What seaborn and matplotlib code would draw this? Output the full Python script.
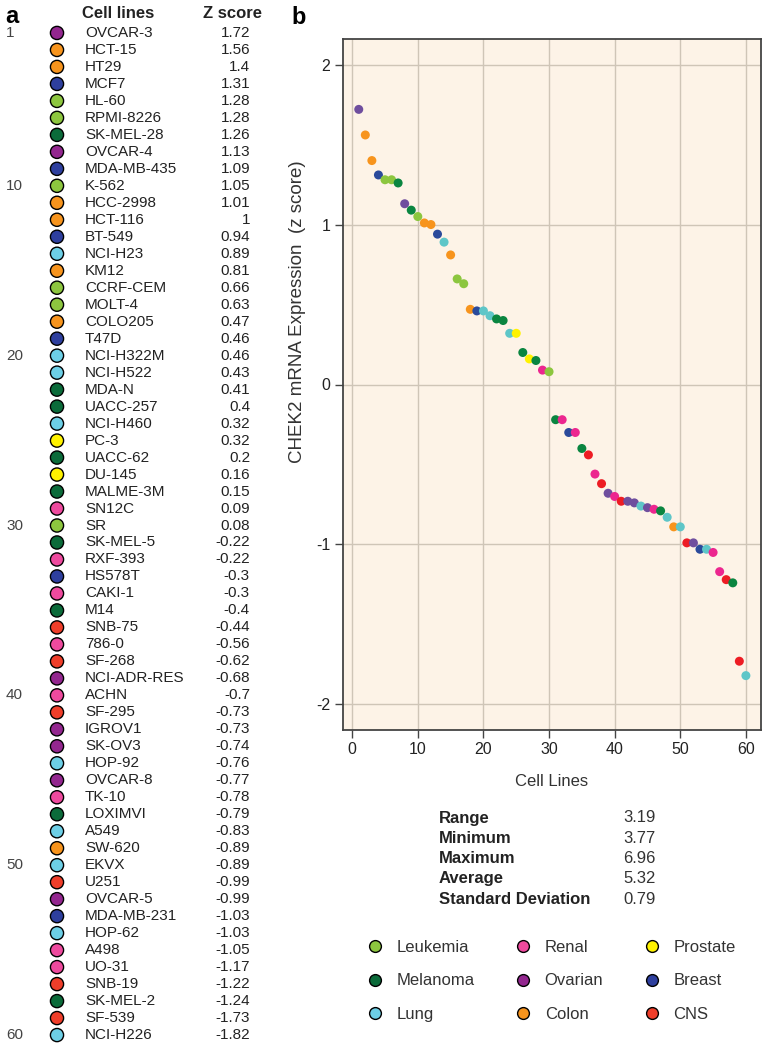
import numpy as np
import pandas as pd
import matplotlib.pyplot as plt
from matplotlib.lines import Line2D
import seaborn as sns

# -------------------------------
# Data
# -------------------------------
cell_lines = ["OVCAR-3", "HCT-15", "HT29", "MCF7", "HL-60", "RPMI-8226", "SK-MEL-28",
              "OVCAR-4", "MDA-MB-435", "K-562", "HCC-2998", "HCT-116", "BT-549", "NCI-H23",
              "KM12", "CCRF-CEM", "MOLT-4", "COLO205", "T47D", "NCI-H322M", "NCI-H522",
              "MDA-N", "UACC-257", "NCI-H460", "PC-3", "UACC-62", "DU-145", "MALME-3M",
              "SN12C", "SR", "SK-MEL-5", "RXF-393", "HS578T", "CAKI-1", "M14", "SNB-75",
              "786-0", "SF-268", "NCI-ADR-RES", "ACHN", "SF-295", "IGROV1", "SK-OV3",
              "HOP-92", "OVCAR-8", "TK-10", "LOXIMVI", "A549", "SW-620", "EKVX", "U251",
              "OVCAR-5", "MDA-MB-231", "HOP-62", "A498", "UO-31", "SNB-19", "SK-MEL-2",
              "SF-539", "NCI-H226"]

z_scores = [1.72, 1.56, 1.4, 1.31, 1.28, 1.28, 1.26, 1.13, 1.09, 1.05,
            1.01, 1, 0.94, 0.89, 0.81, 0.66, 0.63, 0.47, 0.46, 0.46,
            0.43, 0.41, 0.4, 0.32, 0.32, 0.2, 0.16, 0.15, 0.09, 0.08,
            -0.22, -0.22, -0.3, -0.3, -0.4, -0.44, -0.56, -0.62, -0.68, -0.7,
            -0.73, -0.73, -0.74, -0.76, -0.77, -0.78, -0.79, -0.83, -0.89, -0.89,
            -0.99, -0.99, -1.03, -1.03, -1.05, -1.17, -1.22, -1.24, -1.73, -1.82]

cancer_types = ["Ovarian", "Colon", "Colon", "Breast", "Leukemia", "Leukemia", "Melanoma",
                "Ovarian", "Breast", "Leukemia", "Colon", "Colon", "Breast", "Lung",
                "Colon", "Leukemia", "Leukemia", "Colon", "Breast", "Lung", "Lung",
                "Melanoma", "Melanoma", "Lung", "Prostate", "Melanoma", "Prostate", "Melanoma",
                "Renal", "Leukemia", "Melanoma", "Renal", "Breast", "Renal", "Melanoma", "CNS",
                "Renal", "CNS", "Ovarian", "Renal", "CNS", "Ovarian", "Ovarian",
                "Lung", "Ovarian", "Renal", "Melanoma", "Lung", "Colon", "Lung", "CNS",
                "Ovarian", "Breast", "Lung", "Renal", "Renal", "CNS", "Melanoma",
                "CNS", "Lung"]

# the scatter panel shows MDA-MB-435 in the melanoma colour
plot_types = list(cancer_types)
plot_types[8] = "Melanoma"

stat_names = ["Range", "Minimum", "Maximum", "Average", "Standard Deviation"]
stat_values = ["3.19", "3.77", "6.96", "5.32", "0.79"]

legend_order = ["Leukemia", "Melanoma", "Lung", "Renal", "Ovarian", "Colon",
                "Prostate", "Breast", "CNS"]

table_colors = {"Leukemia": "#8DC63F", "Melanoma": "#0B6B3A", "Lung": "#6DCFE6",
                "Renal": "#EE4A9E", "Ovarian": "#93278F", "Colon": "#F7941D",
                "Prostate": "#FFF200", "Breast": "#2E3F9E", "CNS": "#EF3E2A"}
plot_colors = {"Leukemia": "#8CC63F", "Melanoma": "#0A8540", "Lung": "#5EC6C8",
               "Renal": "#EC268F", "Ovarian": "#6F4E9E", "Colon": "#F7941D",
               "Prostate": "#FFF200", "Breast": "#2B4A9B", "CNS": "#ED1C24"}

df = pd.DataFrame({"cell_line": cell_lines, "z": z_scores, "type": cancer_types,
                   "plot_type": plot_types})
df["rank"] = np.arange(1, len(df) + 1)

# -------------------------------
# Figure setup
# -------------------------------
sns.set_theme(style="white")
plt.rcParams["font.family"] = ["Liberation Sans", "DejaVu Sans"]
plt.rcParams["axes.unicode_minus"] = False
txt = "#222222"

W, H = 769, 1050
fig = plt.figure(figsize=(W / 100, H / 100), dpi=100)


def fx(px):
    return px / W


def fy(py):
    return 1 - py / H


# -------------------------------
# Panel a: table
# -------------------------------
ax_t = fig.add_axes([0, 0, 290 / W, 1])
ax_t.set_xlim(0, 290)
ax_t.set_ylim(60.88, -0.94)
ax_t.axis("off")

df["dot_x"] = 57
sns.scatterplot(data=df, x="dot_x", y="rank", hue="type", palette=table_colors,
                s=90, edgecolor="black", linewidth=1, legend=False, ax=ax_t, zorder=3)

for _, r in df.iterrows():
    ax_t.text(85, r["rank"], r["cell_line"], fontsize=11, color=txt, va="center", ha="left")
    ax_t.text(250, r["rank"], f"{r['z']:g}", fontsize=11, color=txt, va="center", ha="right")
    if r["rank"] == 1 or r["rank"] % 10 == 0:
        ax_t.text(6, r["rank"], str(r["rank"]), fontsize=11, color="#444444",
                  va="center", ha="left")

fig.text(fx(82), fy(18), "Cell lines", fontsize=12, fontweight="bold", color=txt, va="baseline")
fig.text(fx(203), fy(18), "Z score", fontsize=12, fontweight="bold", color=txt, va="baseline")
fig.text(fx(5), fy(23), "a", fontsize=17, fontweight="bold", color="black", va="baseline")

# -------------------------------
# Panel b: scatter
# -------------------------------
fig.text(fx(291), fy(24), "b", fontsize=17, fontweight="bold", color="black", va="baseline")

ax = fig.add_axes([fx(343), fy(730), (761 - 343) / W, (730 - 39) / H])
ax.set_facecolor("#FDF3E7")
ax.grid(True, color="#CFC5B7", linewidth=1)
ax.set_axisbelow(True)

sns.scatterplot(data=df, x="rank", y="z", hue="plot_type", palette=plot_colors,
                s=42, linewidth=0, legend=False, ax=ax, zorder=3)

ax.set_xlim(-1.4, 62.3)
ax.set_ylim(-2.16, 2.16)
ax.set_xticks(range(0, 61, 10))
ax.set_yticks([-2, -1, 0, 1, 2])
ax.tick_params(axis="both", direction="out", length=6, width=1, color="#444444",
               labelsize=11.5, labelcolor=txt, pad=3, bottom=True, left=True)
for sp in ax.spines.values():
    sp.set_color("#444444")
    sp.set_linewidth(1.3)
ax.set_xlabel("Cell Lines", fontsize=12, color="#333333", labelpad=12)
ax.set_ylabel("")
fig.text(fx(297), fy(312), "CHEK2 mRNA Expression  (z score)", rotation=90,
         fontsize=13.5, color="#333333", ha="center", va="center")

# -------------------------------
# Summary statistics
# -------------------------------
for i, (name, val) in enumerate(zip(stat_names, stat_values)):
    y = 818 + i * 20.3
    fig.text(fx(439), fy(y), name, fontsize=12, fontweight="bold", color=txt, va="center")
    fig.text(fx(623), fy(y), val, fontsize=12, color="#333333", va="center")

# -------------------------------
# Legend
# -------------------------------
handles = [Line2D([], [], marker="o", linestyle="", markersize=8.5,
                  markerfacecolor=table_colors[t], markeredgecolor="black",
                  markeredgewidth=1) for t in legend_order]
fig.legend(handles, legend_order, ncol=3, loc="upper left",
           bbox_to_anchor=(fx(366.5), fy(940)), frameon=False, fontsize=12,
           labelcolor="#333333", handlelength=1.0, handletextpad=0.8,
           columnspacing=2.4, labelspacing=1.1, borderpad=0, borderaxespad=0)

plt.savefig("out.png", dpi=100)
